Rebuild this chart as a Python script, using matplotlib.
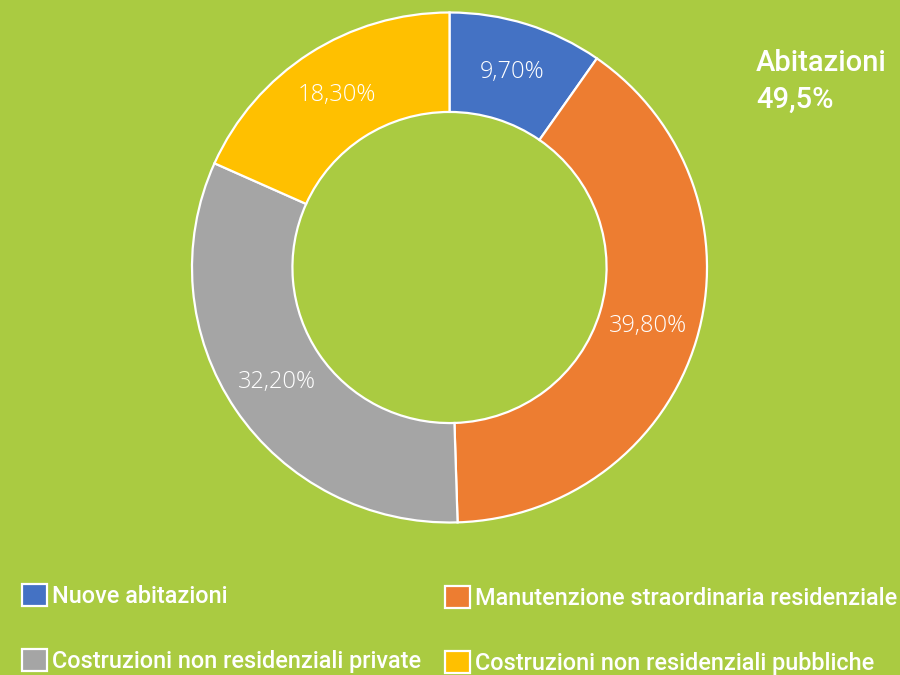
import matplotlib
matplotlib.use("Agg")
import matplotlib.pyplot as plt

# data
labels = ["Nuove abitazioni", "Manutenzione straordinaria residenziale",
          "Costruzioni non residenziali private", "Costruzioni non residenziali pubbliche"]
values = [9.7, 39.8, 32.2, 18.3]
colors = ["#4472C4", "#ED7D31", "#A5A5A5", "#FFC000"]
bg = "#AACB41"

W, H = 900, 675
leg_font = "Roboto"

fig = plt.figure(figsize=(W / 100, H / 100), dpi=100, facecolor=bg)

# donut: centre (449.5, 267.5) px from top-left, radius ~258 x 255 px (slightly squashed)
cx, cy, rx, ry = 449.5, 267.5, 257.5 * 1.01, 255 * 1.01
ax = fig.add_axes([(cx - rx) / W, (H - cy - ry) / H, 2 * rx / W, 2 * ry / H])
ax.set_facecolor(bg)

wedges, texts, autotexts = ax.pie(
    values, colors=colors, startangle=90, counterclock=False, radius=1,
    wedgeprops=dict(width=0.39, edgecolor="white", linewidth=1.6),
    autopct=lambda p: f"{p:.2f}%".replace(".", ","), pctdistance=0.805,
    textprops=dict(color="white", fontsize=17, family="Open Sans", fontweight="light"))
ax.set_xlim(-1.01, 1.01)
ax.set_ylim(-1.01, 1.01)
ax.set_aspect("auto")
ax.axis("off")

# annotation: share of residential (first two categories)
abitazioni = values[0] + values[1]
fig.text(756 / W, 1 - 49 / H, "Abitazioni\n" + f"{abitazioni:.1f}%".replace(".", ","),
         color="white", fontsize=21, family="Roboto", fontweight="medium",
         ha="left", va="top", linespacing=1.38)

# fit legend font size so the longest label spans ~422 px
probe = fig.text(0, 0, labels[1], fontsize=10, family=leg_font, fontweight="medium")
fig.canvas.draw()
wpx = probe.get_window_extent().width
probe.remove()
leg_size = 10 * 422 / wpx
fs_px = leg_size * 100 / 72

leg_kw = dict(frameon=False, labelcolor="white", borderpad=0, borderaxespad=0,
              handlelength=25 / fs_px, handleheight=25 / fs_px, handletextpad=5 / fs_px,
              labelspacing=41 / fs_px,
              prop=dict(family=leg_font, size=leg_size, weight="medium"))
fig.legend([wedges[0], wedges[2]], [labels[0], labels[2]], loc="upper left",
           bbox_to_anchor=(22 / W, 1 - 584 / H), **leg_kw)
fig.legend([wedges[1], wedges[3]], [labels[1], labels[3]], loc="upper left",
           bbox_to_anchor=(445 / W, 1 - 586 / H), **leg_kw)

fig.savefig("out.png", dpi=100, facecolor=bg)
